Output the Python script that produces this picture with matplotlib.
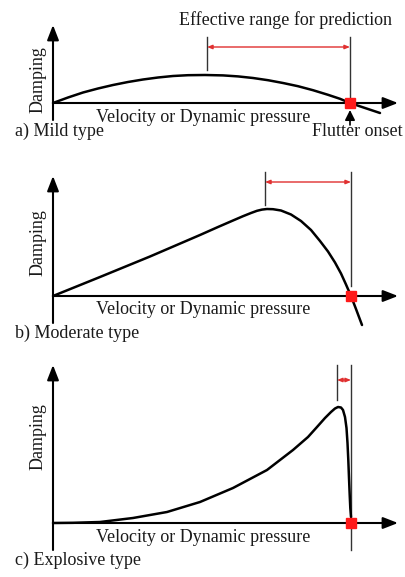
import matplotlib.pyplot as plt

plt.rcParams["font.family"] = ["Liberation Serif", "DejaVu Serif"]

W, H = 406, 577

# curve samples (velocity, damping), origin at the axes crossing
mild_v = [0, 15, 30, 45, 60, 75, 90, 105, 120, 135, 152, 170, 185, 200, 215, 230,
          245, 260, 275, 287, 297, 312, 327]
mild_d = [0, 5.5, 10.5, 14.5, 18, 21, 23.5, 25.5, 27, 27.8, 28, 27.6, 26.6, 25, 22.8, 20,
          16.8, 12.8, 8.2, 4.2, 0, -5, -10]

moderate_v = [0, 47, 97, 147, 165, 180, 190, 198, 204, 209, 214, 220, 228, 238, 248,
              258, 267, 275, 282, 288, 293, 298, 303, 309]
moderate_d = [0, 19, 39.5, 61, 69, 75.5, 79.8, 83, 85.2, 86.4, 87, 86.8, 85.5, 81.5, 75,
              66, 55, 44.5, 33.5, 22.5, 11.5, 0, -13, -29]

explosive_v = [0, 20, 47, 80, 114, 147, 180, 214, 240, 255, 264, 272, 278, 282, 285,
               288, 290, 292, 293.5, 294.5, 295.3, 296, 296.7, 297.3, 298]
explosive_d = [0, 0.2, 1, 5, 11, 21, 35, 53, 73, 86, 96, 105, 111, 114.5, 116,
               115.5, 113, 106, 95, 80, 63, 45, 28, 15, 6]

flutter_v = [297, 298, 298]           # flutter onset per panel
range_start = [154, 212, 284]         # start of effective prediction range
panel_labels = ["a) Mild type", "b) Moderate type", "c) Explosive type"]
x_label = "Velocity or Dynamic pressure"
y_label = "Damping"

# layout of each panel in pixels: (top, bottom, origin_y)
panels = [(0, 150, 103), (150, 345, 296), (345, 577, 523)]
origin_x = 53
# guide line geometry per panel (y values relative to origin)
yaxis_span = [(-17, 78), (-27, 120), (-27, 158)]
range_bar_y = [56, 114, 143]
range_top = [66, 124, 158]
range_left_bottom = [33, 91, 123]
range_right_bottom = [0, 10, -27]
label_y = [-28, -37, -37]
ylabel_y = [23, 53, 86]

FS = 13

fig = plt.figure(figsize=(W / 100, H / 100), dpi=100)

curves = [(mild_v, mild_d), (moderate_v, moderate_d), (explosive_v, explosive_d)]
for i, (top, bottom, oy) in enumerate(panels):
    ax = fig.add_axes([0, 1 - bottom / H, 1, (bottom - top) / H])
    ax.set_xlim(-origin_x, W - origin_x)
    ax.set_ylim(oy - bottom, oy - top)
    ax.axis("off")

    # axes with arrow heads
    ax.annotate("", xy=(345, 0), xytext=(0, 0),
                arrowprops=dict(arrowstyle="-|>,head_length=0.9,head_width=0.35",
                                color="black", lw=1.5, shrinkA=0, shrinkB=0))
    ax.annotate("", xy=(0, yaxis_span[i][1]), xytext=(0, yaxis_span[i][0]),
                arrowprops=dict(arrowstyle="-|>,head_length=0.9,head_width=0.35",
                                color="black", lw=1.5, shrinkA=0, shrinkB=0))

    v, d = curves[i]
    ax.plot(v, d, color="black", lw=1.8, solid_capstyle="round",
            solid_joinstyle="round", zorder=3)

    # effective range markers
    ax.plot([range_start[i], range_start[i]], [range_left_bottom[i], range_top[i]],
            color="#333333", lw=1.0)
    ax.plot([flutter_v[i], flutter_v[i]], [range_right_bottom[i], range_top[i]],
            color="#333333", lw=1.0)
    ax.annotate("", xy=(range_start[i], range_bar_y[i]), xytext=(flutter_v[i], range_bar_y[i]),
                arrowprops=dict(arrowstyle="<|-|>,head_length=0.3,head_width=0.12",
                                color="#e03030", lw=1.0, shrinkA=0, shrinkB=0))

    ax.plot([flutter_v[i]], [0], marker="s", color="#ff1a1a", markersize=7, zorder=4)

    ax.text(150, -14, x_label, ha="center", va="center", fontsize=FS, color="#1a1a1a")
    ax.text(-15, ylabel_y[i], y_label, ha="center", va="center", rotation=90,
            fontsize=FS, color="#1a1a1a")
    ax.text(-38, label_y[i], panel_labels[i], ha="left", va="center", fontsize=FS,
            color="#1a1a1a")

    if i == 0:
        ax.text(233, 83, "Effective range for prediction", ha="center", va="center",
                fontsize=FS, color="#1a1a1a")
        ax.text(304, -28, "Flutter onset", ha="center", va="center", fontsize=FS,
                color="#1a1a1a")
        ax.annotate("", xy=(flutter_v[i], -7), xytext=(flutter_v[i], -22),
                    arrowprops=dict(arrowstyle="-|>,head_length=0.6,head_width=0.3",
                                    color="black", lw=1.2, shrinkA=0, shrinkB=0))

fig.savefig("out.png", dpi=100)
